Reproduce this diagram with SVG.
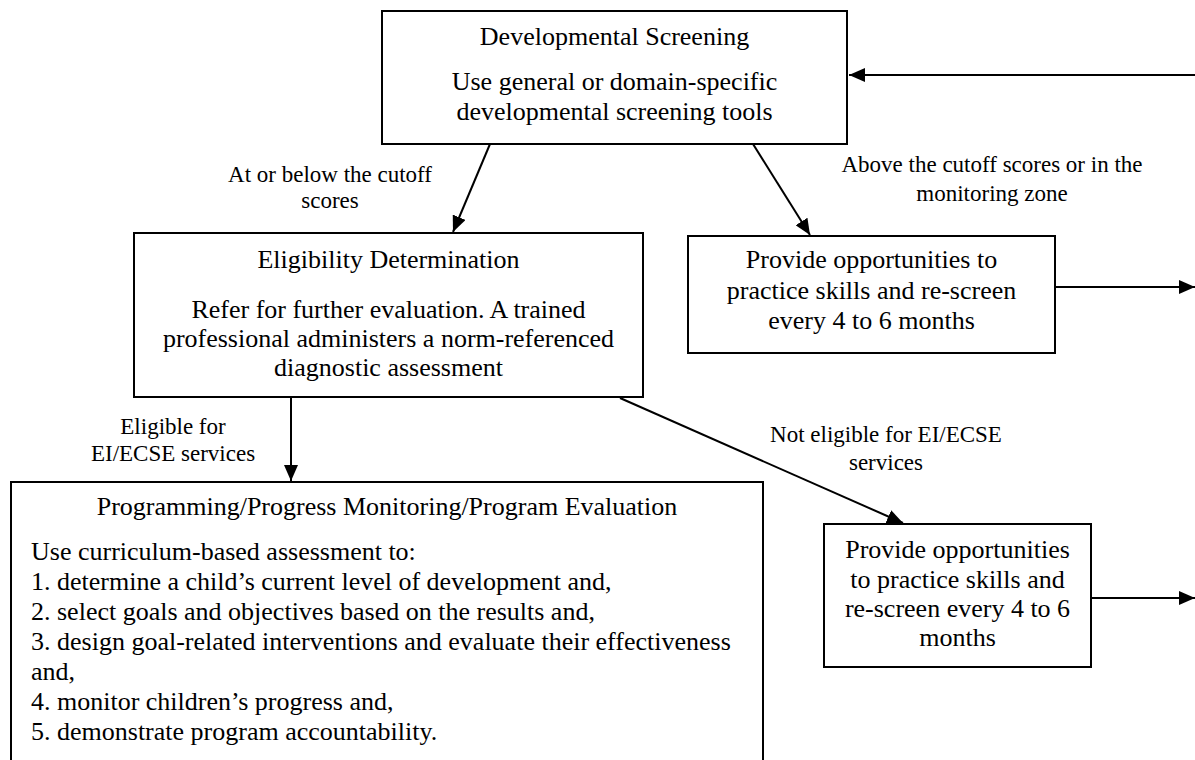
<svg xmlns="http://www.w3.org/2000/svg" width="1195" height="760" viewBox="0 0 1195 760">
<defs>
<style>
.box{fill:#fff;stroke:#000;stroke-width:2}
.t{font-family:"Liberation Serif","Times New Roman",serif;font-size:26px;fill:#000}
.c{text-anchor:middle}
.lbl{font-family:"Liberation Serif","Times New Roman",serif;font-size:23px;fill:#000;text-anchor:middle}
.edge{stroke:#000;stroke-width:2;fill:none;marker-end:url(#ah)}
</style>
<marker id="ah" viewBox="0 0 16 14" refX="16" refY="7" markerWidth="16" markerHeight="14" orient="auto" markerUnits="userSpaceOnUse">
<path d="M0,0 L16,7 L0,14 z" fill="#000"/>
</marker>
</defs>
<rect width="1195" height="760" fill="#fff"/>
<g id="connectors">
<line class="edge" x1="1195" y1="75" x2="849" y2="75"/>
<line class="edge" x1="490" y1="144" x2="453" y2="232"/>
<line class="edge" x1="753" y1="144" x2="810" y2="235"/>
<line class="edge" x1="1055" y1="287" x2="1195" y2="287"/>
<line class="edge" x1="291" y1="398" x2="291" y2="481"/>
<line class="edge" x1="620" y1="398" x2="903" y2="523"/>
<line class="edge" x1="1091" y1="598" x2="1195" y2="598"/>
<text class="lbl" x="330" y="182">At or below the cutoff</text>
<text class="lbl" x="330" y="208">scores</text>
<text class="lbl" x="992" y="172">Above the cutoff scores or in the</text>
<text class="lbl" x="992" y="201">monitoring zone</text>
<text class="lbl" x="173" y="434">Eligible for</text>
<text class="lbl" x="173" y="461">EI/ECSE services</text>
<text class="lbl" x="886" y="442">Not eligible for EI/ECSE</text>
<text class="lbl" x="886" y="470">services</text>
</g>
<g id="screening">
<rect class="box" x="382" y="11" width="465" height="133"/>
<text class="t c" x="614.5" y="45">Developmental Screening</text>
<text class="t c" x="614.5" y="90">Use general or domain-specific</text>
<text class="t c" x="614.5" y="120">developmental screening tools</text>
</g>
<g id="eligibility">
<rect class="box" x="134" y="233" width="509" height="164"/>
<text class="t c" x="388.5" y="268">Eligibility Determination</text>
<text class="t c" x="388.5" y="318">Refer for further evaluation. A trained</text>
<text class="t c" x="388.5" y="347">professional administers a norm-referenced</text>
<text class="t c" x="388.5" y="376">diagnostic assessment</text>
</g>
<g id="rescreen1">
<rect class="box" x="688" y="236" width="367" height="117"/>
<text class="t c" x="871.5" y="268">Provide opportunities to</text>
<text class="t c" x="871.5" y="299">practice skills and re-screen</text>
<text class="t c" x="871.5" y="329">every 4 to 6 months</text>
</g>
<g id="programming">
<rect class="box" x="11" y="482" width="752" height="281"/>
<text class="t c" x="387" y="515">Programming/Progress Monitoring/Program Evaluation</text>
<text class="t" x="31" y="560">Use curriculum-based assessment to:</text>
<text class="t" x="31" y="590">1. determine a child’s current level of development and,</text>
<text class="t" x="31" y="620">2. select goals and objectives based on the results and,</text>
<text class="t" x="31" y="650">3. design goal-related interventions and evaluate their effectiveness</text>
<text class="t" x="31" y="680">and,</text>
<text class="t" x="31" y="710">4. monitor children’s progress and,</text>
<text class="t" x="31" y="740">5. demonstrate program accountability.</text>
</g>
<g id="rescreen2">
<rect class="box" x="824" y="524" width="267" height="143"/>
<text class="t c" x="957.5" y="558">Provide opportunities</text>
<text class="t c" x="957.5" y="588">to practice skills and</text>
<text class="t c" x="957.5" y="617">re-screen every 4 to 6</text>
<text class="t c" x="957.5" y="646">months</text>
</g>
</svg>
